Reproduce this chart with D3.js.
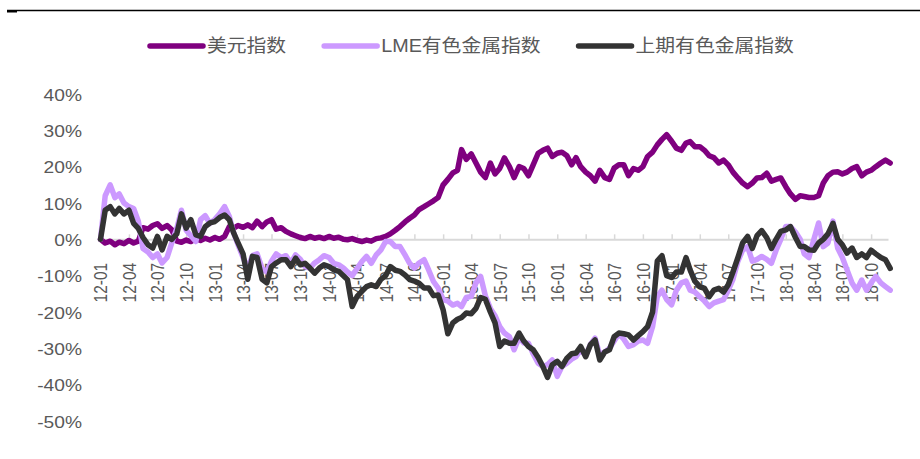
<!DOCTYPE html>
<html>
<head>
<meta charset="utf-8">
<script src="https://cdn.jsdelivr.net/npm/d3@7"></script>
<style>
  body { margin: 0; background: #fff; }
  svg { display: block; }
  text { font-family: "Liberation Sans", Arial, "Noto Sans CJK SC", sans-serif; fill: #595959; }
</style>
</head>
<body>
<div id="chart"></div>
<script>
// series names
var seriesNames = ["美元指数", "LME有色金属指数", "上期有色金属指数"];
var seriesColors = ["#7f007f", "#cc99ff", "#333333"];

// one value on the 1st and 16th of each month, 2012-01 .. 2018-11, last one = end of Nov 2018
var usd = [
  0, -1, -0.5, -1.5, -0.8, -1.2, -0.3, -1, -0.5, 3.2, 2.8, 3.8, 4.3, 3.0, 3.8, 2.6, -0.5, -0.8, -0.2, -0.6, 0.2, -0.3, 0.3, -0.2,
  0.5, 0, 0.8, 3.5, 3.0, 3.8, 3.3, 4.0, 3.2, 5.0, 3.5, 4.8, 5.4, 2.8, 3.2, 2.2, 1.5, 1.0, 0.5, 0.2, 0.8, 0.3, 0.6, 0.2,
  0.8, 0.3, 0.6, 0, -0.1, 0.2, -0.3, -0.6, -0.2, -0.5, 0.2, 0.4, 0.8, 1.5, 2.5, 3.5, 4.8, 5.8, 6.7, 8.2, 9.0, 9.8, 10.6, 11.5,
  15, 16.5, 18.3, 19, 24.7, 22, 23.5, 21, 18.5, 17, 21, 18, 19.5, 22.4, 20, 17, 20, 19.5, 17.5, 20.5, 23.7, 24.5, 25.1, 22.8,
  23.7, 24, 23, 20.5, 22.5, 20, 18.5, 17.5, 16, 19, 17, 16.5, 19.6, 20.5, 20.5, 17.5, 19.5, 19, 20, 22.8, 24, 26, 27.5, 28.8,
  27, 25.1, 24.5, 26.5, 26.9, 25.5, 25.5, 24.5, 23, 22.5, 21, 21.8, 20.5, 18.5, 16.9, 15.5, 14.5, 15.5, 16.9, 17, 18.2, 16, 16.5, 16.9,
  14.5, 12.5, 11, 12, 11.8, 11.5, 11.5, 12, 15.5, 17.5, 18.5, 18.6, 18, 18.5, 19.5, 20, 17.5, 18.5, 19, 20, 21, 21.8, 21
];
var lme = [
  0, 12, 15, 11.5, 12.5, 10, 9, 8.5, 5, -2.5, -3.5, -5, -4, -6.5, -5, -1, 3, 8, 2.5, 1, -0.6, 5.4, 6.5, 4.4,
  5.5, 7, 9, 6.3, 2, -1.5, -5, -8, -4.5, -4, -8, -9, -6, -4, -5, -4.5, -6.5, -4.3, -5.5, -7.5, -7.9, -6.5, -5.6, -4.5,
  -5, -6.6, -7, -7.9, -9, -10, -8, -6.1, -4.7, -6.6, -4.3, -2.9, -0.6, -0.6, -2, -2, -4.3, -6.6, -7.9, -6.5, -5.6, -8.5, -11.6, -13.4,
  -16.6, -17, -18.1, -17.6, -18.5, -16, -15.7, -12, -10.2, -15.5, -19, -21, -24, -25.8, -26.8, -30.4, -27, -28.5, -28.6, -31.5, -34.1, -35, -34.5, -33.2,
  -37.7, -35, -34.1, -33, -32.3, -30.4, -32, -29, -27.2, -31.8, -31, -30, -28, -26, -27.5, -29.5, -29, -28, -27.7, -28.6, -24, -15.8, -14, -16.6,
  -18, -14, -12, -11.5, -14, -14.5, -15.8, -17, -18.5, -17.5, -17, -16.6, -14, -11, -6, -3, -2, -6, -5.5, -4.7, -5.5, -6.6, -3, 0,
  3.5, 3.5, 2, 0, -4, -5, 0, 4.5, -2, -1, 5, -2.4, -5, -8.4, -12, -14, -11.2, -14, -12, -10.2, -12, -13, -14
];
var shfe = [
  0, 8, 9, 7, 8.5, 7, 8, 4.4, 3, 0.5, -1.5, -2.4, 0.8, -2.9, 0.8, 0, 1.5, 7, 3.1, 5.4, 1.2, 0.8, 3.5, 4.5,
  4.9, 6, 6.7, 5.4, 2, -1, -4, -11, -4.7, -5, -11, -12, -7.5, -6.5, -5.6, -5.6, -7.5, -5.2, -7, -6.6, -7.9, -9.3, -7.9, -7,
  -7.5, -8.4, -8.8, -10, -11.1, -18.5, -15.7, -14.3, -13, -12.5, -13, -11, -10, -7.5, -8.5, -8.8, -9.8, -11.1, -11.5, -12.1, -13.4, -13.4, -15.5, -15.3,
  -19.4, -26, -23, -22, -21.5, -20.3, -20.5, -19, -16, -16.5, -20, -23, -29.5, -28, -28.6, -28.6, -25.8, -28, -29.5, -30.4, -32.5, -35, -38, -34.5,
  -33.6, -35, -32.7, -31.5, -31.3, -29.5, -32.3, -29, -27.7, -33.2, -31, -30.4, -26.8, -25.8, -26, -26.3, -27.7, -26.5, -25.4, -24, -20, -6, -4.5, -10,
  -10.5, -9, -9, -5, -8.4, -11.5, -13, -13.5, -15.8, -14, -13.5, -14.5, -12.5, -9, -5, -1, 0.8, -2.5, 1, 2.4, 0.5, -2.5, 0, 2.2,
  2.6, 3.5, 0.5, -2, -2, -2.9, -3, -1, 0, 1.5, 4.4, 0, -1.5, -3.8, -2.4, -5, -4, -5, -3, -4, -5, -5.6, -8
];

// axis ticks
var yTicks = [40, 30, 20, 10, 0, -10, -20, -30, -40, -50];
var startDate = new Date(2012, 0, 1);
var axisEnd = new Date(2018, 10, 24);

var width = 920, height = 459;

var svg = d3.select("#chart").append("svg")
  .attr("width", width)
  .attr("height", height);

var x = d3.scaleTime()
  .domain([startDate, axisEnd])
  .range([100.5, 888]);
var y = d3.scaleLinear()
  .domain([-50, 40])
  .range([421, 94]);

// dates for the half-month points
var dates = usd.map(function(d, i) {
  var dt = d3.timeMonth.offset(startDate, Math.floor(i / 2));
  return i % 2 ? d3.timeDay.offset(dt, 15) : dt;
});

// top rule
svg.append("line")
  .attr("x1", 7).attr("x2", 920)
  .attr("y1", 10.5).attr("y2", 10.5)
  .attr("stroke", "#000")
  .attr("stroke-width", 1.3);
svg.append("rect")
  .attr("x", 7).attr("y", 10).attr("width", 10).attr("height", 2.5)
  .attr("fill", "#000");

// y axis labels
var yAxis = svg.append("g")
  .attr("transform", "translate(82,0)")
  .call(d3.axisLeft(y).tickValues(yTicks).tickSize(0).tickPadding(0)
    .tickFormat(function(d) { return d + "%"; }));
yAxis.select(".domain").remove();
yAxis.selectAll("text")
  .attr("x", null)
  .attr("dy", "0.36em")
  .attr("transform", "scale(1.13,1)")
  .style("font-size", "17px")
  .style("fill", "#595959")
  .style("font-family", "'Liberation Sans', Arial, sans-serif");

// x axis on the zero line
var xAxis = svg.append("g")
  .attr("transform", "translate(0," + y(0) + ")")
  .call(d3.axisBottom(x).ticks(d3.timeMonth.every(3)).tickSize(-5).tickSizeOuter(0)
    .tickFormat(d3.timeFormat("%y-%m")));
xAxis.select(".domain").attr("stroke", "#d9d9d9").attr("stroke-width", 2);
xAxis.selectAll(".tick line").attr("stroke", "#d9d9d9").attr("stroke-width", 1.5);
xAxis.selectAll("text")
  .attr("x", 0)
  .attr("y", 0)
  .attr("dy", "0.36em")
  .attr("text-anchor", "end")
  .attr("transform", "translate(0,23.5) scale(1.15,1) rotate(-90)")
  .style("font-size", "15.5px")
  .style("fill", "#595959")
  .style("font-family", "'Liberation Sans', Arial, sans-serif");

// lines
var line = d3.line()
  .x(function(d, i) { return x(dates[i]); })
  .y(function(d) { return y(d); });

[usd, lme, shfe].forEach(function(s, k) {
  svg.append("path")
    .datum(s)
    .attr("d", line)
    .attr("fill", "none")
    .attr("stroke", seriesColors[k])
    .attr("stroke-width", 5.5)
    .attr("stroke-linejoin", "round")
    .attr("stroke-linecap", "round");
});

// legend
var legend = svg.append("g").attr("transform", "translate(148,46)");
var lx = 0;
seriesNames.forEach(function(name, k) {
  var item = legend.append("g").attr("transform", "translate(" + lx + ",0)");
  item.append("line")
    .attr("x1", 2).attr("x2", 55)
    .attr("stroke", seriesColors[k])
    .attr("stroke-width", 5.5)
    .attr("stroke-linecap", "round");
  var t = item.append("text")
    .attr("dy", "0.36em")
    .attr("transform", "translate(59,0) scale(1.1,1)")
    .style("font-size", "18px")
    .text(name);
  lx += 59 + t.node().getComputedTextLength() * 1.1 + 36;
});
</script>
</body>
</html>
